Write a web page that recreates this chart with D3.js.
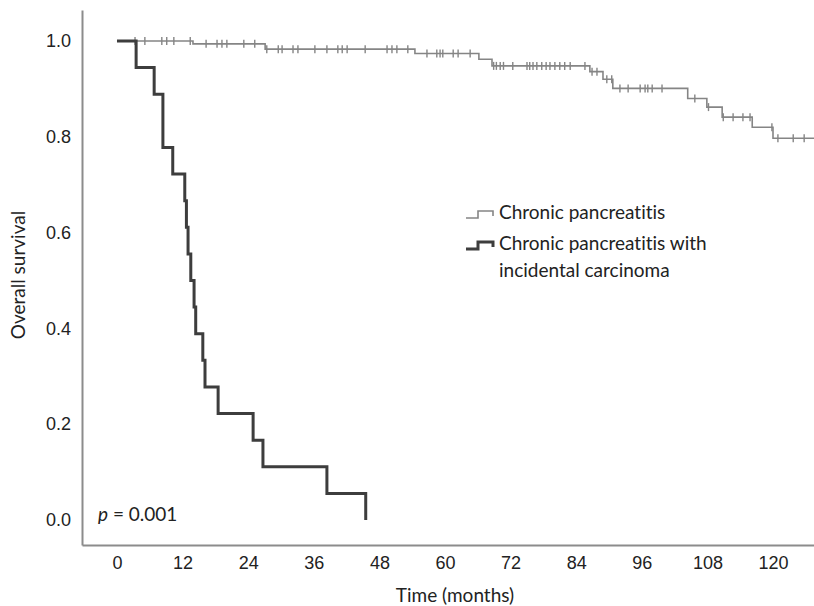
<!DOCTYPE html>
<html>
<head>
<meta charset="utf-8">
<script src="https://cdn.jsdelivr.net/npm/d3@7"></script>
<style>
  body { margin: 0; background: #fff; }
  .tick text { font-family: "Liberation Sans", Arial, sans-serif; font-size: 18px; fill: #222; }
  .lbl { font-family: Lato, "Open Sans", sans-serif; fill: #222; font-variant-ligatures: none; }
</style>
</head>
<body>
<div id="chart"></div>
<script>
// x tick labels (months) and y tick labels (survival)
const xTicks = [0, 12, 24, 36, 48, 60, 72, 84, 96, 108, 120];
const yTicks = [0.0, 0.2, 0.4, 0.6, 0.8, 1.0];

// Chronic pancreatitis: event times and survival after each event
const chronicEventTimes = [13.9, 27.1, 54.5, 66.2, 68.6, 86.5, 88.9, 90.7, 104.4, 107.9, 110.7, 116.2, 120.0];
const chronicSurv = [0.994, 0.983, 0.974, 0.962, 0.948, 0.936, 0.920, 0.901, 0.880, 0.862, 0.841, 0.820, 0.797];
// censored times (tick marks)
const chronicCensored = [3.3, 5.1, 8.2, 9.1, 10.4, 13.4, 16.3, 18.3, 19.2, 20.1, 23.2, 25.2,
    27.4, 29.5, 30.2, 32.2, 33.1, 36.2, 38.4, 40.4, 41.2, 42.1, 45.4, 49.4, 50.3, 51.2, 53.2,
    56.7, 58.5, 59.1, 59.6, 61.5, 62.4, 64.6,
    68.9, 69.4, 70.1, 70.7, 72.4, 75.0, 75.5, 76.1, 76.8, 77.7, 78.5, 79.2, 80.1, 81.0, 81.9, 82.9, 85.6,
    86.9, 87.8, 89.6, 90.5, 92.0, 93.5, 95.7, 96.6, 97.1, 97.9, 99.7, 105.7, 108.2,
    110.9, 112.7, 114.5, 115.8, 119.8, 120.9, 123.7, 125.7];
const chronicEnd = 127.5;

// Chronic pancreatitis with incidental carcinoma (n = 18)
const cancerEventTimes = [3.5, 6.8, 8.4, 10.2, 12.4, 12.7, 13.0, 13.5, 14.1, 14.4, 15.7, 16.1, 18.5, 24.9, 26.7, 38.4, 45.5];
const cancerSurv = [17/18, 16/18, 14/18, 13/18, 12/18, 11/18, 10/18, 9/18, 8/18, 7/18, 6/18, 5/18, 4/18, 3/18, 2/18, 1/18, 0];

const legendLabels = [["Chronic pancreatitis"], ["Chronic pancreatitis with", "incidental carcinoma"]];

const width = 814, height = 606;
const colorChronic = "#858585", colorCancer = "#3d3d3d";

let svg = d3.select("#chart").append("svg")
    .attr("width", width)
    .attr("height", height);

// scales - axis frame runs from x=82 to the right edge, y=10 to 545
let x = d3.scaleLinear().domain([-6.4, 127.5]).range([82, 814]);
let y = d3.scaleLinear().domain([-0.0522, 1.0647]).range([545, 10]);

// axes
let gx = svg.append("g")
    .attr("transform", "translate(0,545)")
    .call(d3.axisBottom(x).tickValues(xTicks).tickSize(0).tickPadding(11));
let gy = svg.append("g")
    .attr("transform", "translate(82,0)")
    .call(d3.axisLeft(y).tickValues(yTicks).tickSize(0).tickPadding(11).tickFormat(d3.format(".1f")));
svg.selectAll(".domain").attr("stroke", "#8c8c8c").attr("stroke-width", 2);

// build step points from event arrays
function stepPoints(times, surv, end) {
    let pts = [[0, 1]];
    times.forEach((t, i) => pts.push([t, surv[i]]));
    if (end != null) pts.push([end, surv[surv.length - 1]]);
    return pts;
}
function survAt(times, surv, t) {
    let s = 1;
    times.forEach((e, i) => { if (e <= t) s = surv[i]; });
    return s;
}

let line = d3.line()
    .x(d => x(d[0]))
    .y(d => y(d[1]))
    .curve(d3.curveStepAfter);

// chronic pancreatitis curve
svg.append("path")
    .datum(stepPoints(chronicEventTimes, chronicSurv, chronicEnd))
    .attr("d", line)
    .attr("fill", "none")
    .attr("stroke", colorChronic)
    .attr("stroke-width", 1.6);

svg.append("g").selectAll("line")
    .data(chronicCensored).enter()
    .append("line")
    .attr("x1", d => x(d)).attr("x2", d => x(d))
    .attr("y1", d => y(survAt(chronicEventTimes, chronicSurv, d)) - 4)
    .attr("y2", d => y(survAt(chronicEventTimes, chronicSurv, d)) + 4)
    .attr("stroke", colorChronic)
    .attr("stroke-width", 1.4);

// carcinoma curve
svg.append("path")
    .datum(stepPoints(cancerEventTimes, cancerSurv, null))
    .attr("d", line)
    .attr("fill", "none")
    .attr("stroke", colorCancer)
    .attr("stroke-width", 3);

// legend
let legend = svg.append("g");
let legendItems = [
    {color: colorChronic, w: 1.6, y: 215, lines: legendLabels[0]},
    {color: colorCancer, w: 3, y: 246, lines: legendLabels[1]}
];
legendItems.forEach(item => {
    legend.append("path")
        .attr("d", "M466," + (item.y + 3) + "H478V" + (item.y - 4) + "H493V" + (item.y + 1))
        .attr("fill", "none")
        .attr("stroke", item.color)
        .attr("stroke-width", item.w);
    item.lines.forEach((t, i) => {
        legend.append("text")
            .attr("class", "lbl")
            .attr("x", 499)
            .attr("y", item.y + 4 + i * 27)
            .style("font-size", "19px")
            .text(t);
    });
});

// p value
let ptext = svg.append("text")
    .attr("class", "lbl")
    .attr("x", 98)
    .attr("y", 521)
    .style("font-size", "19px");
ptext.append("tspan").style("font-style", "italic").text("p");
ptext.append("tspan").text(" = 0.001");

// axis titles
svg.append("text")
    .attr("class", "lbl")
    .attr("text-anchor", "middle")
    .attr("x", 455)
    .attr("y", 602)
    .style("font-size", "19px")
    .text("Time (months)");

svg.append("text")
    .attr("class", "lbl")
    .attr("text-anchor", "middle")
    .attr("transform", "translate(25,275) rotate(-90)")
    .style("font-size", "19px")
    .text("Overall survival");
</script>
</body>
</html>
